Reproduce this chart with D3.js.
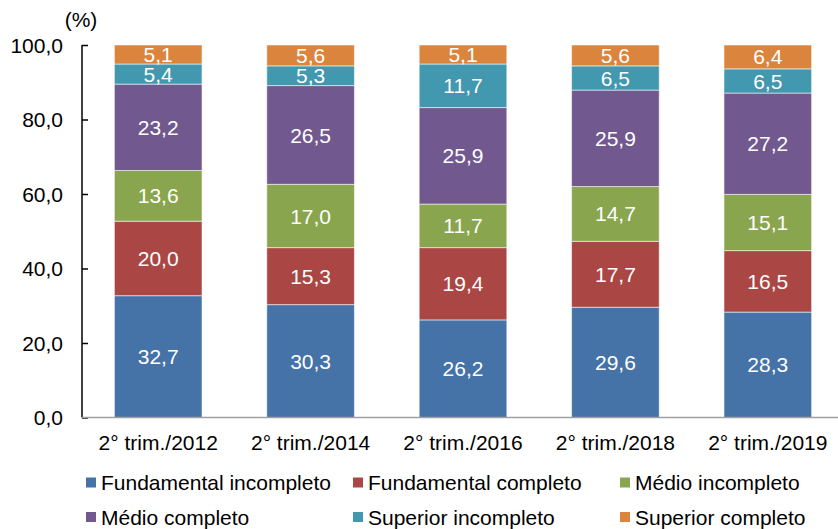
<!DOCTYPE html>
<html><head><meta charset="utf-8">
<script src="https://cdn.jsdelivr.net/npm/d3@7"></script>
<style>body{margin:0;background:#fff}svg{display:block}text{font-family:"Liberation Sans",Arial,sans-serif}</style>
</head><body><svg id="c" width="838" height="529"></svg>
<script>
const categories = ["2° trim./2012","2° trim./2014","2° trim./2016","2° trim./2018","2° trim./2019"];
const seriesNames = ["Fundamental incompleto","Fundamental completo","Médio incompleto","Médio completo","Superior incompleto","Superior completo"];
const fundIncompleto = [32.7,30.3,26.2,29.6,28.3];
const fundCompleto   = [20.0,15.3,19.4,17.7,16.5];
const medioIncompleto= [13.6,17.0,11.7,14.7,15.1];
const medioCompleto  = [23.2,26.5,25.9,25.9,27.2];
const supIncompleto  = [5.4,5.3,11.7,6.5,6.5];
const supCompleto    = [5.1,5.6,5.1,5.6,6.4];
const colors = ["#4572A7","#AA4643","#89A54E","#71588F","#4198AF","#DB843D"];
const yTicks = [0,20,40,60,80,100];

const seriesVals = [fundIncompleto,fundCompleto,medioIncompleto,medioCompleto,supIncompleto,supCompleto];
const rows = categories.map((c,i)=>{const r={cat:c};seriesNames.forEach((s,j)=>r[s]=seriesVals[j][i]);return r;});
const stacked = d3.stack().keys(seriesNames)(rows);

const svg = d3.select("#c");
const fs = "21px";
const x = d3.scaleBand().domain(categories).range([82,844]).paddingInner(0.425).paddingOuter(0.2125);
const y = d3.scaleLinear().domain([0,100]).range([417.5,45]);
const fmt = v => d3.format(".1f")(v).replace(".",",");

// bars
const g = svg.append("g");
stacked.forEach((s,j)=>{
  g.selectAll(null).data(s).enter().append("rect")
    .attr("x",d=>x(d.data.cat)).attr("width",x.bandwidth())
    .attr("y",d=>y(d[1])).attr("height",d=>y(d[0])-y(d[1]))
    .attr("fill",colors[j]).attr("stroke","#ffffff").attr("stroke-opacity",0.55).attr("stroke-width",1);
  g.selectAll(null).data(s).enter().append("text")
    .attr("x",d=>x(d.data.cat)+x.bandwidth()/2)
    .attr("y",d=>(y(d[0])+y(d[1]))/2).attr("dy","0.36em")
    .attr("text-anchor","middle").attr("fill","#fff").style("font-size",fs)
    .text(d=>fmt(d[1]-d[0]));
});

// y axis
const ya = svg.append("g").attr("transform","translate(82,0)")
  .call(d3.axisRight(y).tickValues(yTicks).tickSize(6).tickFormat(()=>"") );
ya.select(".domain").attr("stroke","#000").attr("stroke-width",1.5).attr("d","M0,"+y(100)+"V"+y(0));
ya.selectAll(".tick line").attr("stroke","#000").attr("stroke-width",1.5);
svg.append("g").selectAll("text").data(yTicks).enter().append("text")
  .attr("x",63).attr("y",d=>y(d)).attr("dy","0.36em").attr("text-anchor","end")
  .style("font-size",fs).attr("fill","#000").text(fmt);
svg.append("text").attr("x",81).attr("y",27).attr("text-anchor","middle").style("font-size",fs).text("(%)");

// x axis
const xa = svg.append("g").attr("transform","translate(0,"+y(0)+")")
  .call(d3.axisBottom(x).tickSize(0).tickPadding(0));
xa.select(".domain").attr("stroke","#a0a0a0").attr("stroke-width",1.5).attr("d","M82,0H838");
xa.selectAll(".tick text").attr("dy",null).attr("y",32.5).style("font-size",fs).attr("fill","#000")
  .style("font-family","'Liberation Sans',Arial,sans-serif");

// legend
const lx = [86,353,620], ly = [482.5,517];
const leg = svg.append("g");
seriesNames.forEach((s,i)=>{
  const cx = lx[i%3], cy = ly[Math.floor(i/3)];
  leg.append("rect").attr("x",cx).attr("y",cy-5).attr("width",10).attr("height",10).attr("fill",colors[i]);
  leg.append("text").attr("x",cx+15).attr("y",cy).attr("dy","0.36em").style("font-size",fs).attr("fill","#000").text(s);
});
</script></body></html>
